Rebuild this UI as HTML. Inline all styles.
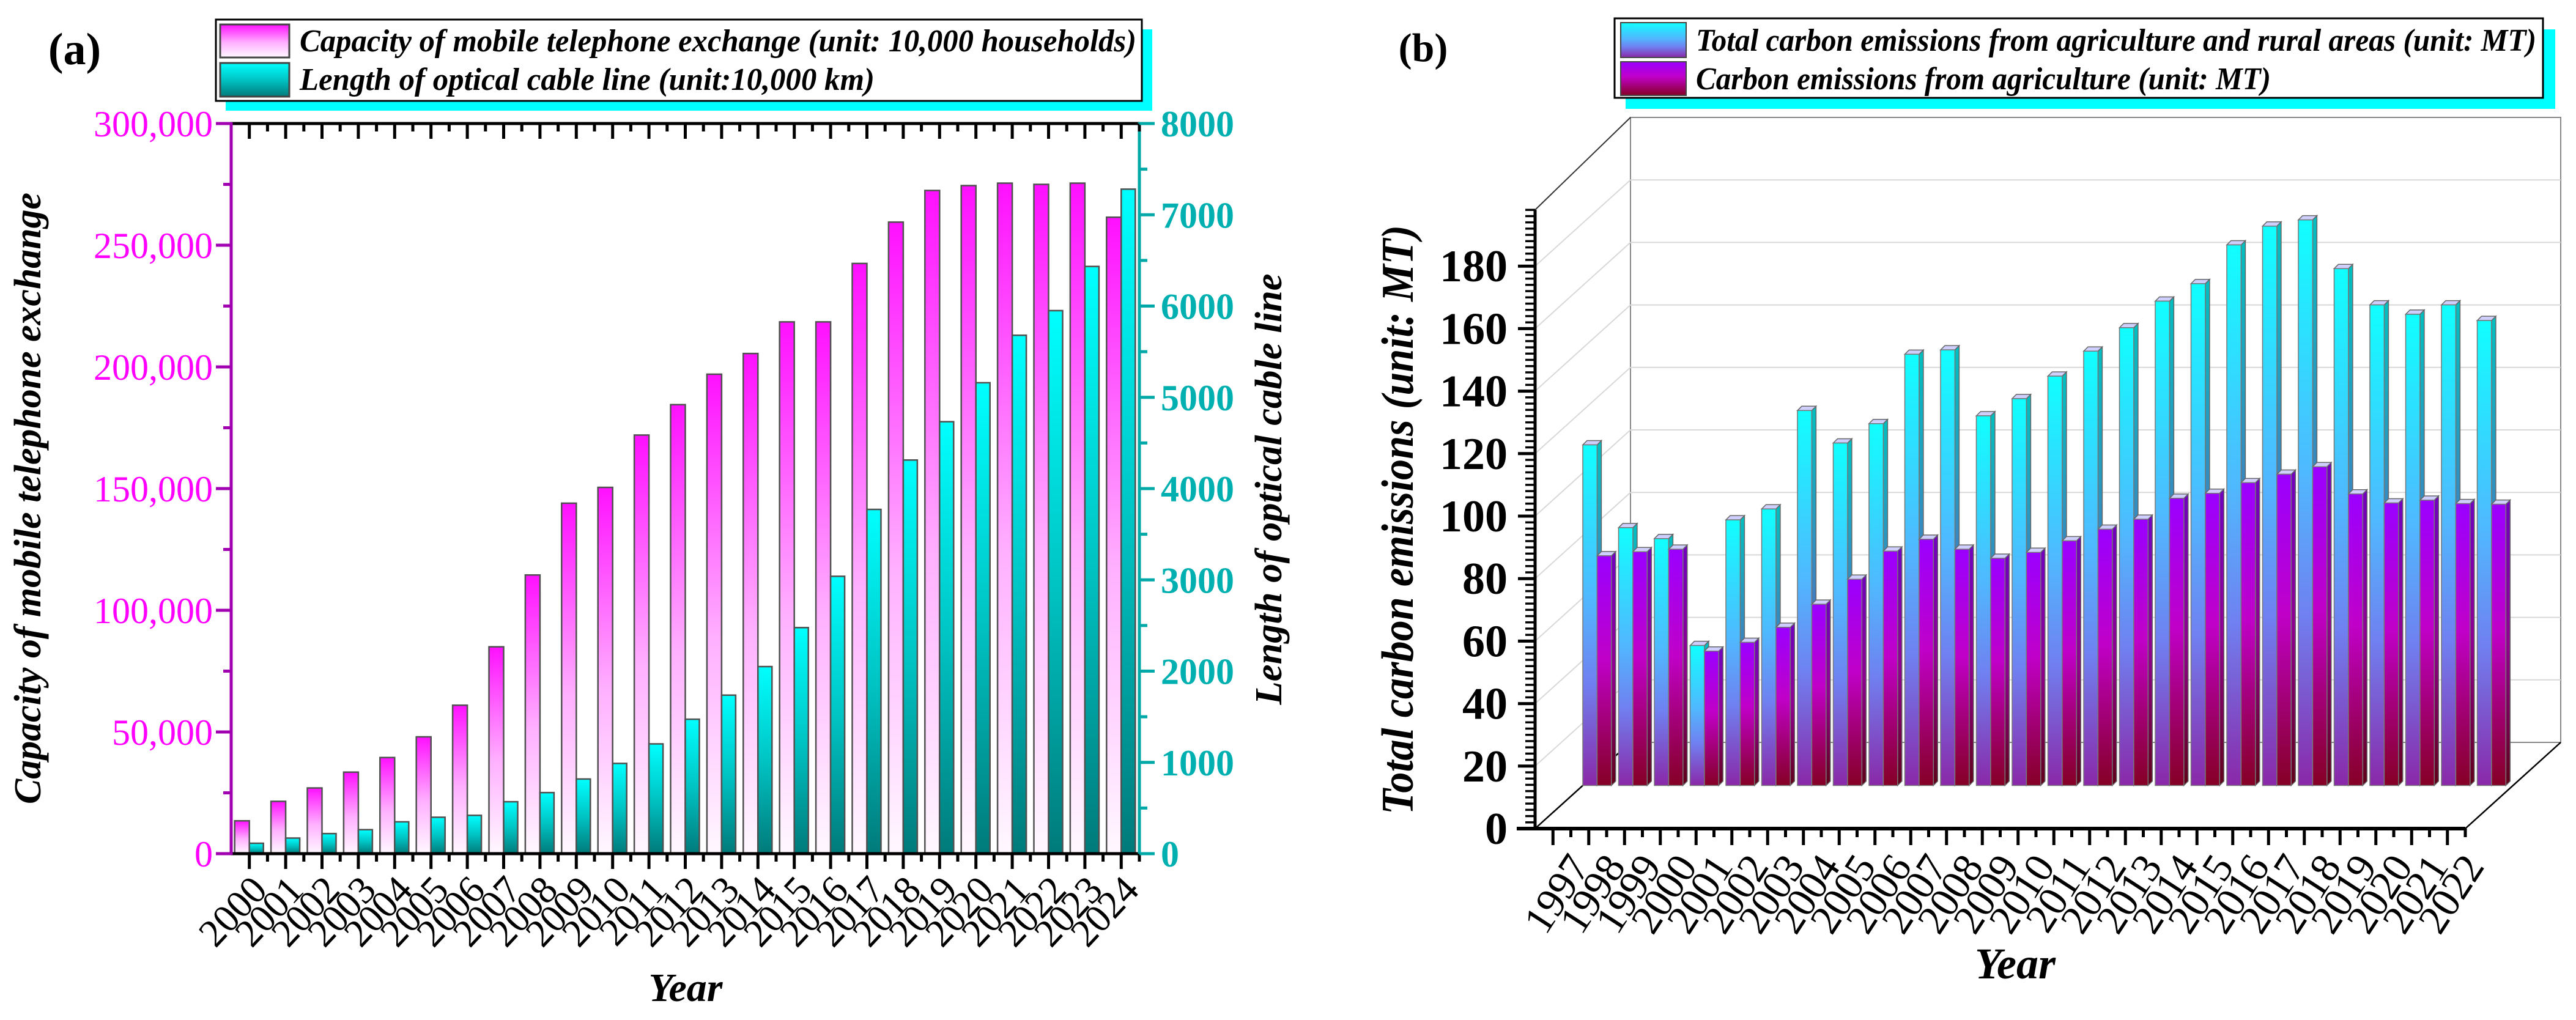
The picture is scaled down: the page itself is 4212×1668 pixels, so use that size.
<!DOCTYPE html>
<html><head><meta charset="utf-8"><style>
html,body{margin:0;padding:0;background:#fff;}
svg{display:block;font-family:"Liberation Serif",serif;}
</style></head><body>
<svg id="fig" xmlns="http://www.w3.org/2000/svg" width="4212" height="1668" viewBox="0 0 4212 1668">
<defs>
<linearGradient id="gMag" x1="0" y1="0" x2="0" y2="1"><stop offset="0" stop-color="#ff10ff"/><stop offset="0.55" stop-color="#ffb0ff"/><stop offset="1" stop-color="#fff8ff"/></linearGradient>
<linearGradient id="gCyA" x1="0" y1="0" x2="0" y2="1"><stop offset="0" stop-color="#00ffff"/><stop offset="0.5" stop-color="#00c4c4"/><stop offset="1" stop-color="#007a7a"/></linearGradient>
<linearGradient id="gCyB" x1="0" y1="0" x2="0" y2="1"><stop offset="0" stop-color="#10ffff"/><stop offset="0.45" stop-color="#50b8ff"/><stop offset="0.7" stop-color="#7080f0"/><stop offset="1" stop-color="#8a28a8"/></linearGradient>
<linearGradient id="gCyBs" x1="0" y1="0" x2="0" y2="1"><stop offset="0" stop-color="#00c0c0"/><stop offset="0.5" stop-color="#4080c0"/><stop offset="1" stop-color="#602080"/></linearGradient>
<linearGradient id="gPuB" x1="0" y1="0" x2="0" y2="1"><stop offset="0" stop-color="#9a00ff"/><stop offset="0.45" stop-color="#c000c8"/><stop offset="1" stop-color="#850025"/></linearGradient>
<linearGradient id="gPuBs" x1="0" y1="0" x2="0" y2="1"><stop offset="0" stop-color="#7000c0"/><stop offset="0.5" stop-color="#900090"/><stop offset="1" stop-color="#600018"/></linearGradient>
</defs>
<g id="panelA"></g>
<g id="panelB"></g>
</svg>
<script>
// ---------- Panel (a) data ----------
const yearsA = ["2000","2001","2002","2003","2004","2005","2006","2007","2008","2009","2010","2011","2012","2013","2014","2015","2016","2017","2018","2019","2020","2021","2022","2023","2024"];
const capacityA = [13500,21500,27000,33500,39500,48000,61000,85000,114500,144000,150500,172000,184500,197000,205500,218500,218500,242500,259500,272500,274500,275500,275000,275500,261500];
const cableA = [114,171,220,263,349,399,420,569,669,818,989,1203,1473,1737,2050,2477,3039,3772,4313,4733,5160,5680,5950,6434,7281];
const leftTicksA = [0,50000,100000,150000,200000,250000,300000];
const leftTickLabelsA = ["0","50,000","100,000","150,000","200,000","250,000","300,000"];
const rightTicksA = [0,1000,2000,3000,4000,5000,6000,7000,8000];
// ---------- Panel (b) data ----------
const yearsB = ["1997","1998","1999","2000","2001","2002","2003","2004","2005","2006","2007","2008","2009","2010","2011","2012","2013","2014","2015","2016","2017","2018","2019","2020","2021","2022"];
const totalB = [109,82.5,79,44.8,85,88.5,120,109.6,115.8,138,139.4,118.3,123.8,131,139,146.5,155,160.6,173,179,181,165.4,153.8,150.8,153.8,148.8];
const agriB = [73.5,74.8,75.6,43,45.8,50.6,58,66,75,78.8,75.6,72.7,74.6,78.3,82,85.2,91.9,93.5,96.9,99.6,102,93.3,90.4,91.3,90.2,90];
const yTicksB = [0,20,40,60,80,100,120,140,160,180];

const NS="http://www.w3.org/2000/svg";
function mk(parent,tag,attrs,text){const e=document.createElementNS(NS,tag);for(const k in attrs)e.setAttribute(k,attrs[k]);if(text!==undefined)e.textContent=text;parent.appendChild(e);return e;}

// ================= PANEL A =================
const A=document.getElementById('panelA');
const aL=378,aR=1863,aT=202,aB=1396;
const catW=(aR-aL)/yearsA.length;
const xA=i=>aL+(i+0.5)*catW;
const yL=v=>aB-v/300000*(aB-aT);
const yR=v=>aB-v/8000*(aB-aT);

let t=mk(A,'text',{x:122,y:105,'font-size':74,'font-weight':'bold','text-anchor':'middle'},'(a)');



// legend a
const legA=mk(A,'g',{});


let r=mk(legA,'rect',{x:369,y:48,width:1515,height:133,fill:'#00ffff'});


r=mk(legA,'rect',{x:353,y:32,width:1514,height:133,fill:'#fff',stroke:'#000','stroke-width':3});


r=mk(legA,'rect',{x:360,y:40,width:113,height:54,fill:'url(#gMag)',stroke:'#444','stroke-width':3});


r=mk(legA,'rect',{x:360,y:103,width:113,height:55,fill:'url(#gCyA)',stroke:'#444','stroke-width':3});


t=mk(legA,'text',{x:490,y:84,'font-size':52,'font-weight':'bold','font-style':'italic',textLength:1368,lengthAdjust:'spacingAndGlyphs'},'Capacity of mobile telephone exchange (unit: 10,000 households)');


t=mk(legA,'text',{x:490,y:147,'font-size':52,'font-weight':'bold','font-style':'italic',textLength:940,lengthAdjust:'spacingAndGlyphs'},'Length of optical cable line (unit:10,000 km)');



// bars a
for(let i=0;i<yearsA.length;i++){
  let b=mk(A,'rect',{x:xA(i)-24,y:yL(capacityA[i]),width:24,height:aB-yL(capacityA[i]),fill:'url(#gMag)',stroke:'#505050','stroke-width':2.5});
  
  
  b=mk(A,'rect',{x:xA(i),y:yR(cableA[i]),width:23,height:aB-yR(cableA[i]),fill:'url(#gCyA)',stroke:'#505050','stroke-width':2.5});
  
  
}
// axes a
let l=mk(A,'line',{x1:aL,y1:aT,x2:aR,y2:aT,stroke:'#000','stroke-width':5});


l=mk(A,'line',{x1:aL-20,y1:aB,x2:aR+5,y2:aB,stroke:'#000','stroke-width':5});


l=mk(A,'line',{x1:aL,y1:aT-2,x2:aL,y2:aB+2,stroke:'#a000b0','stroke-width':5});


l=mk(A,'line',{x1:aR,y1:aT-2,x2:aR,y2:aB+2,stroke:'#00a8a8','stroke-width':5});


for(let i=0;i<yearsA.length;i++){
  l=mk(A,'line',{x1:xA(i),y1:aB,x2:xA(i),y2:aB+25,stroke:'#000','stroke-width':5});
  
  
  l=mk(A,'line',{x1:xA(i)+catW/2,y1:aB,x2:xA(i)+catW/2,y2:aB+13,stroke:'#000','stroke-width':5});
  
  
  l=mk(A,'line',{x1:xA(i),y1:aT,x2:xA(i),y2:aT+25,stroke:'#000','stroke-width':5});
  
  
  l=mk(A,'line',{x1:xA(i)+catW/2,y1:aT,x2:xA(i)+catW/2,y2:aT+13,stroke:'#000','stroke-width':5});
  
  
  const tx=xA(i)+32,ty=aB+62;
  t=mk(A,'text',{x:tx,y:ty,'font-size':64,'text-anchor':'end',transform:`rotate(-47 ${tx} ${ty})`},yearsA[i]);
  
  
}
for(let k=0;k<leftTicksA.length;k++){
  const y=yL(leftTicksA[k]);
  l=mk(A,'line',{x1:aL-25,y1:y,x2:aL,y2:y,stroke:'#a000b0','stroke-width':5});
  
  
  if(k<leftTicksA.length-1){const ym=yL(leftTicksA[k]+25000);
  l=mk(A,'line',{x1:aL-13,y1:ym,x2:aL,y2:ym,stroke:'#a000b0','stroke-width':5});
  
  }
  t=mk(A,'text',{x:aL-30,y:y+21,'font-size':60,fill:'#ff00ff','text-anchor':'end'},leftTickLabelsA[k]);
  
  
}
for(let k=0;k<rightTicksA.length;k++){
  const y=yR(rightTicksA[k]);
  l=mk(A,'line',{x1:aR,y1:y,x2:aR+25,y2:y,stroke:'#00a8a8','stroke-width':5});
  
  
  if(k<rightTicksA.length-1){const ym=yR(rightTicksA[k]+500);
  l=mk(A,'line',{x1:aR,y1:ym,x2:aR+13,y2:ym,stroke:'#00a8a8','stroke-width':5});
  
  }
  t=mk(A,'text',{x:aR+35,y:y+21,'font-size':60,'font-weight':'bold',fill:'#00b0b0'},String(rightTicksA[k]));
  
  
}
t=mk(A,'text',{x:0,y:0,'font-size':62,'font-weight':'bold','font-style':'italic','text-anchor':'middle',transform:'translate(66 815) rotate(-90)',textLength:1000,lengthAdjust:'spacingAndGlyphs'},'Capacity of mobile telephone exchange');


t=mk(A,'text',{x:0,y:0,'font-size':62,'font-weight':'bold','font-style':'italic','text-anchor':'middle',transform:'translate(2095 800) rotate(-90)',textLength:705,lengthAdjust:'spacingAndGlyphs'},'Length of optical cable line');


t=mk(A,'text',{x:1121,y:1637,'font-size':66,'font-weight':'bold','font-style':'italic','text-anchor':'middle'},'Year');



// ================= PANEL B =================
const B=document.getElementById('panelB');
const bL=2510,bR=4031,bF=1355,unit=5.11,DX=156,DY=-141;
const cwB=(bR-bL)/yearsB.length;
const yF=v=>bF-v*unit;
const xB=i=>bL+(i+0.5)*cwB;

t=mk(B,'text',{x:2327,y:100,'font-size':66,'font-weight':'bold','text-anchor':'middle'},'(b)');



const legB=mk(B,'g',{});


r=mk(legB,'rect',{x:2658,y:48,width:1520,height:130,fill:'#00ffff'});


r=mk(legB,'rect',{x:2640,y:30,width:1518,height:130,fill:'#fff',stroke:'#000','stroke-width':3});


r=mk(legB,'rect',{x:2650,y:37,width:107,height:57,fill:'url(#gCyB)',stroke:'#444','stroke-width':2});


r=mk(legB,'rect',{x:2650,y:101,width:107,height:55,fill:'url(#gPuB)',stroke:'#444','stroke-width':2});


t=mk(legB,'text',{x:2773,y:83,'font-size':52,'font-weight':'bold','font-style':'italic',textLength:1374,lengthAdjust:'spacingAndGlyphs'},'Total carbon emissions from agriculture and rural areas (unit: MT)');


t=mk(legB,'text',{x:2773,y:146,'font-size':52,'font-weight':'bold','font-style':'italic',textLength:940,lengthAdjust:'spacingAndGlyphs'},'Carbon emissions from agriculture (unit: MT)');



// back wall & floor
const topV=200;
let p=mk(B,'rect',{x:bL+DX,y:yF(topV)+DY,width:bR-bL,height:topV*unit,fill:'#fff',stroke:'#888','stroke-width':2});


for(let v=20;v<topV;v+=20){
  l=mk(B,'line',{x1:bL+DX,y1:yF(v)+DY,x2:bR+DX,y2:yF(v)+DY,stroke:'#d8d8d8','stroke-width':2});
  
  
  l=mk(B,'line',{x1:bL,y1:yF(v),x2:bL+DX,y2:yF(v)+DY,stroke:'#d8d8d8','stroke-width':2});
  
  
}
l=mk(B,'line',{x1:bL,y1:yF(198),x2:bL+DX,y2:yF(topV)+DY,stroke:'#333','stroke-width':2});


l=mk(B,'line',{x1:bL+DX,y1:bF+DY,x2:bR+DX,y2:bF+DY,stroke:'#888','stroke-width':2});


l=mk(B,'line',{x1:bL,y1:bF,x2:bL+DX,y2:bF+DY,stroke:'#000','stroke-width':2.5});


l=mk(B,'line',{x1:bR,y1:bF,x2:bR+DX,y2:bF+DY,stroke:'#000','stroke-width':2.5});



// bars b (mid depth)
const mdx=DX/2,mdy=DY/2,bw=cwB*0.4,sd=7;
function bar3d(x,v,fill,side,name){
  const base=bF+mdy,top=yF(v)+mdy;
  let s=mk(B,'polygon',{points:`${x+bw},${base} ${x+bw+sd},${base-sd} ${x+bw+sd},${top-sd} ${x+bw},${top}`,fill:`url(#${side})`,stroke:'#666','stroke-width':1.5});
  
  
  s=mk(B,'polygon',{points:`${x},${top} ${x+bw},${top} ${x+bw+sd},${top-sd} ${x+sd},${top-sd}`,fill:'#cfcfff',stroke:'#666','stroke-width':1.5});
  
  
  s=mk(B,'rect',{x:x,y:top,width:bw,height:base-top,fill:`url(#${fill})`,stroke:'#777','stroke-width':1.5});
  
  
}
for(let i=0;i<yearsB.length;i++){
  const x0=bL+i*cwB+mdx;
  bar3d(x0,totalB[i],'gCyB','gCyBs','bar-total-'+yearsB[i]);
  bar3d(x0+bw,agriB[i],'gPuB','gPuBs','bar-agri-'+yearsB[i]);
}
// axes b
l=mk(B,'line',{x1:bL-30,y1:bF,x2:bR,y2:bF,stroke:'#000','stroke-width':6});


l=mk(B,'line',{x1:bL,y1:yF(198),x2:bL,y2:bF,stroke:'#000','stroke-width':5});


for(let v=0;v<=198;v+=2){
  const major=(v%20===0);
  l=mk(B,'line',{x1:bL-(major?28:16),y1:yF(v),x2:bL,y2:yF(v),stroke:'#000','stroke-width':major?5:3.5});
  
  
}
for(let k=0;k<yTicksB.length;k++){
  t=mk(B,'text',{x:bL-45,y:yF(yTicksB[k])+25,'font-size':74,'font-weight':'bold','text-anchor':'end'},String(yTicksB[k]));
  
  
}
for(let i=0;i<yearsB.length;i++){
  l=mk(B,'line',{x1:xB(i),y1:bF,x2:xB(i),y2:bF+27,stroke:'#000','stroke-width':5});
  
  
  l=mk(B,'line',{x1:xB(i)+cwB/2,y1:bF,x2:xB(i)+cwB/2,y2:bF+14,stroke:'#000','stroke-width':5});
  
  
  const tx=xB(i)+62,ty=bF+62;
  t=mk(B,'text',{x:tx,y:ty,'font-size':68,'text-anchor':'end',transform:`rotate(-57 ${tx} ${ty})`},yearsB[i]);
  
  
}
t=mk(B,'text',{x:0,y:0,'font-size':74,'font-weight':'bold','font-style':'italic','text-anchor':'middle',transform:'translate(2310 850) rotate(-90)',textLength:964,lengthAdjust:'spacingAndGlyphs'},'Total carbon emissions (unit: MT)');


t=mk(B,'text',{x:3295,y:1600,'font-size':72,'font-weight':'bold','font-style':'italic','text-anchor':'middle'},'Year');


</script>
</body></html>
